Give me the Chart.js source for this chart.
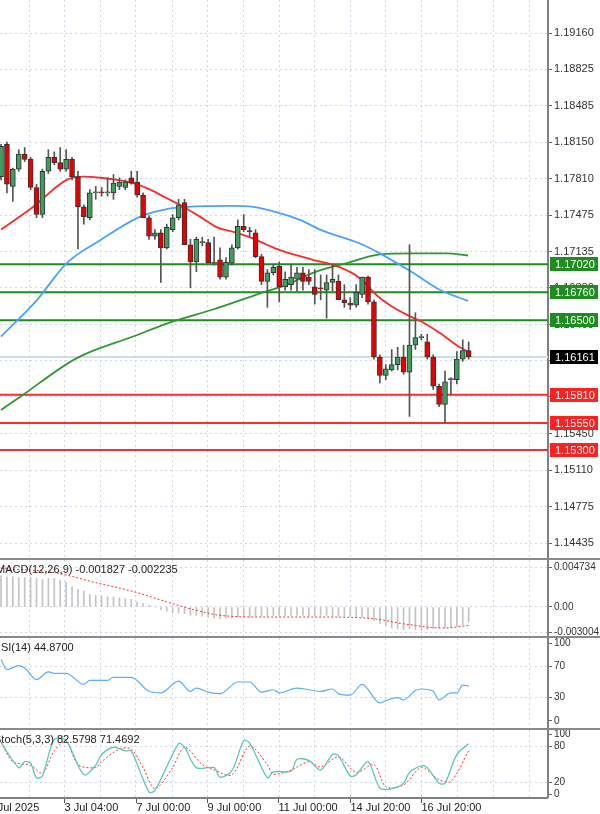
<!DOCTYPE html>
<html><head><meta charset="utf-8">
<script src="https://cdn.jsdelivr.net/npm/chart.js@4.4.1/dist/chart.umd.min.js"></script>
<style>
html,body{margin:0;padding:0;background:#fff;width:600px;height:814px;overflow:hidden;position:relative}
canvas{position:absolute;left:0}
.sep{position:absolute;left:0;width:600px;height:2px;background:#8a8a8a}
</style></head><body>
<canvas id="cMain" width="600" height="558" style="top:0"></canvas>
<div class="sep" style="top:558px"></div>
<canvas id="cMacd" width="600" height="76" style="top:560px"></canvas>
<div class="sep" style="top:636px"></div>
<canvas id="cRsi" width="600" height="90" style="top:638px"></canvas>
<div class="sep" style="top:728px"></div>
<canvas id="cSto" width="600" height="84" style="top:730px"></canvas>
<script>
// ---------- data ----------
const openP = [1.1783,1.1813,1.1774,1.1790,1.1804,1.1799,1.1773,1.1748,1.1788,1.1801,
1.1796,1.1790,1.1799,1.1783,1.1755,1.1745,1.1768,1.1769,1.1768,1.1768,
1.1774,1.1773,1.1782,1.1778,1.1766,1.1745,1.1728,1.1731,1.1717,1.1734,
1.1745,1.1759,1.1720,1.1704,1.1722,1.1722,1.1703,1.1706,1.1690,1.1703,
1.1717,1.1737,1.1733,1.1731,1.1709,1.1686,1.1694,1.1700,1.1681,1.1683,
1.1688,1.1694,1.1690,1.1681,1.1680,1.1678,1.1685,1.1686,1.1669,1.1666,
1.1664,1.1674,1.1690,1.1667,1.1616,1.1599,1.1604,1.1609,1.1616,1.1602,
1.1627,1.1634,1.1630,1.1616,1.1589,1.1572,1.1595,1.1595,1.1614,1.1622];
const highP = [1.1813,1.1815,1.1791,1.1808,1.1810,1.1801,1.1776,1.1790,1.1808,1.1806,
1.1810,1.1808,1.1801,1.1788,1.1757,1.1771,1.1774,1.1773,1.1782,1.1785,
1.1782,1.1780,1.1788,1.1788,1.1768,1.1747,1.1734,1.1734,1.1739,1.1748,
1.1762,1.1762,1.1725,1.1727,1.1727,1.1725,1.1727,1.1717,1.1708,1.1720,
1.1743,1.1748,1.1736,1.1734,1.1711,1.1697,1.1702,1.1704,1.1695,1.1702,
1.1699,1.1699,1.1697,1.1697,1.1692,1.1692,1.1702,1.1692,1.1683,1.1671,
1.1683,1.1690,1.1691,1.1669,1.1618,1.1609,1.1623,1.1625,1.1627,1.1720,
1.1657,1.1637,1.1637,1.1618,1.1591,1.1603,1.1597,1.1621,1.1632,1.1630];
const lowP = [1.1780,1.1768,1.1760,1.1788,1.1797,1.1771,1.1745,1.1745,1.1786,1.1794,
1.1788,1.1788,1.1780,1.1716,1.1739,1.1743,1.1762,1.1765,1.1765,1.1762,
1.1771,1.1771,1.1776,1.1764,1.1745,1.1725,1.1725,1.1685,1.1716,1.1732,
1.1743,1.1720,1.1680,1.1695,1.1719,1.1703,1.1701,1.1688,1.1688,1.1701,
1.1716,1.1732,1.1728,1.1708,1.1683,1.1662,1.1692,1.1667,1.1678,1.1678,
1.1677,1.1678,1.1683,1.1665,1.1669,1.1652,1.1677,1.1669,1.1662,1.1660,
1.1662,1.1671,1.1665,1.1614,1.1592,1.1595,1.1603,1.1604,1.1600,1.1561,
1.1623,1.1632,1.1614,1.1586,1.1570,1.1555,1.1581,1.1591,1.1612,1.1614];
const closeP = [1.1811,1.1776,1.1790,1.1804,1.1799,1.1773,1.1748,1.1788,1.1801,1.1796,
1.1790,1.1799,1.1783,1.1755,1.1746,1.1768,1.1769,1.1768,1.1769,1.1777,
1.1778,1.1778,1.1777,1.1766,1.1745,1.1728,1.1731,1.1717,1.1736,1.1745,
1.1757,1.1720,1.1704,1.1725,1.1722,1.1703,1.1704,1.1690,1.1704,1.1717,
1.1737,1.1734,1.1732,1.1709,1.1686,1.1694,1.1699,1.1681,1.1688,1.1690,
1.1694,1.1686,1.1686,1.1674,1.1679,1.1685,1.1688,1.1669,1.1666,1.1664,
1.1676,1.1690,1.1667,1.1616,1.1599,1.1605,1.1609,1.1616,1.1602,1.1627,
1.1634,1.1634,1.1616,1.1589,1.1572,1.1593,1.1595,1.1614,1.1622,1.1616];

const maRedX  = [0,5.4,11.1,13.9,16.7,19.6,22.3,25.2,28,30.2,33.6,36.5,39.2,42,44.9,47.1,52.7,57.3,60.6,63.5,65.7,68.6,71.3,74.2,77.5,78.9];
const maRedY  = [1.1734,1.1755,1.1780,1.1783,1.1782,1.1780,1.1777,1.1771,1.1763,1.1757,1.1746,1.1736,1.1732,1.1727,1.1720,1.1715,1.1706,1.1699,1.1689,1.1673,1.1664,1.1655,1.1648,1.1638,1.1625,1.1621];
const maBlueX = [0,6.1,11.1,16.7,23.5,28,31.4,39.2,42.6,46.6,50.5,53.9,61.1,64,69.6,74.2,78.9];
const maBlueY = [1.1635,1.1669,1.1703,1.1724,1.1746,1.1753,1.1755,1.1756,1.1755,1.1750,1.1743,1.1734,1.1720,1.1712,1.1694,1.1678,1.1668];
const maGreenX = [0,3.2,12.8,22.3,29.1,35.8,43.8,48.3,52.7,58.4,64,69.6,75.3,78.9];
const maGreenY = [1.1567,1.1579,1.1615,1.1635,1.1649,1.1660,1.1675,1.1683,1.1694,1.1703,1.1711,1.1712,1.1712,1.1710];

const resistLevels = [1.17020,1.16760,1.16500];
const supportLevels = [1.15810,1.15550,1.15300];
const currentPrice = 1.16161;
const priceTicks = [1.19160,1.18825,1.18485,1.18150,1.17810,1.17475,1.17135,1.16800,1.16460,1.16125,1.15790,1.15450,1.15110,1.14775,1.14435];

const macdHist = [0.0037,0.0036,0.0036,0.0035,0.0035,0.0035,0.0034,0.0033,0.0034,0.0034,
0.0032,0.0030,0.0024,0.0021,0.0019,0.0015,0.0014,0.0013,0.0012,0.0012,
0.0011,0.0010,0.0009,0.0006,0.0004,0.0002,0.0000,-0.0003,-0.0005,-0.0007,
-0.0007,-0.0008,-0.0010,-0.0010,-0.0011,-0.0012,-0.0013,-0.0014,-0.0013,-0.0013,
-0.0012,-0.0012,-0.0012,-0.0011,-0.0011,-0.0011,-0.0010,-0.0010,-0.0010,-0.0010,
-0.0010,-0.0010,-0.0011,-0.0010,-0.0010,-0.0010,-0.0011,-0.0011,-0.0011,-0.0011,
-0.0012,-0.0012,-0.0013,-0.0016,-0.0020,-0.0022,-0.0025,-0.0026,-0.0027,-0.0026,
-0.0027,-0.0027,-0.0027,-0.0026,-0.0025,-0.0025,-0.0024,-0.0023,-0.0021,-0.0018];
const macdSigX = [0,9,16,22,29,33,37,45,55,61,64,67,70,72,75,79];
const macdSigY = [0.0046,0.0041,0.0029,0.0019,0.0004,-0.0004,-0.0010,-0.0012,-0.0012,-0.0013,-0.0015,-0.0019,-0.0022,-0.0024,-0.0025,-0.0022];
const macdTicks = [0.004734,0,-0.003004];

const rsiX = [0,1,3,4,6,8,9,11,14,15,18,19,22,25,27,30,32,33,35,37,40,42,44,46,47,50,54,56,57,59,61,64,65,67,68,70,71,73,74,76,77,78,79];
const rsiY = [79,66,71,68,53,63,61,61,47,52,52,56,56,38,36,51,38,42,37,35,50,50,37,40,36,42,38,41,35,33,47,23,26,30,27,39,41,38,27,36,36,46,45];
const rsiTicks = [100,70,30,0];

const stoKX = [0,3,4,5,6,7,9,11,14,16,17,19,21,22,25,26,30,31,33,36,37,39,41,42,45,46,49,50,52,54,56,57,59,60,62,64,66,68,69,71,72,74,75,77,79];
const stoKY = [86,44,54,51,27,30,91,89,32,48,66,78,72,72,3,6,84,78,44,44,28,39,89,85,27,37,38,58,56,40,66,64,30,32,54,10,9,18,36,47,44,18,18,66,84];
const stoDX = [0,2,5,7,9,11,13,16,17,20,22,24,26,29,31,34,36,39,42,45,46,49,52,54,57,60,63,65,68,71,74,76,79];
const stoDY = [86,54,48,35,72,88,49,44,54,75,75,44,9,44,78,49,40,32,80,49,33,40,54,45,62,36,49,12,15,44,24,21,72];
const stoTicks = [100,80,20,0];

const dayGridIdx = [4.75,10.8,16.8,22.8,28.9,34.9,40.9,47,53,59,65,71,77.1,83.2,89.3];
const timeLabelIdx = [-2.2,10.7,22.8,34.8,46.8,58.9,70.9];
const timeLabels = ['2 Jul 2025','3 Jul 04:00','7 Jul 00:00','9 Jul 00:00','11 Jul 00:00','14 Jul 20:00','16 Jul 20:00'];

// ---------- helpers ----------
const X_MIN = -0.17, X_MAX = 92.4;
const FONT = 'Liberation Sans';
const GRIDC = '#cfd8e8';
const DASH = [2,3];
const pts = (xs, ys) => xs.map((x,i)=>({x, y: ys[i]}));
function xScale(){
  return {type:'linear', min:X_MIN, max:X_MAX, display:true, offset:false,
    afterBuildTicks(s){ s.ticks = dayGridIdx.map(v=>({value:v})); },
    afterFit(s){ s.height = 0; s.paddingLeft = 0; s.paddingRight = 0; },
    ticks:{display:false},
    grid:{color:GRIDC, drawTicks:false, offset:false},
    border:{display:false, dash:DASH}};
}
function yScale(min,max,ticks,fmt,fs,gridColor){
  return {type:'linear', position:'right', min, max,
    afterBuildTicks(s){ s.ticks = ticks.map(v=>({value:v})); },
    afterFit(s){ s.width = 52; s.paddingTop = 0; s.paddingBottom = 0; },
    ticks:{color:'#333', font:{family:FONT, size:fs||11}, padding:2, callback:fmt, autoSkip:false},
    grid:{color:gridColor||GRIDC, tickLength:4, tickColor:'#666', tickBorderDash:[]},
    border:{display:true, color:'#808080', width:2, dash:DASH}};
}
function titlePlugin(text, dx){
  return {id:'title_'+text.length, afterDraw(c){
    const ctx=c.ctx; ctx.save(); ctx.font='11px '+FONT; ctx.fillStyle='#222';
    ctx.textBaseline='top'; ctx.fillText(text, dx, 4); ctx.restore(); }};
}
const baseOpts = {responsive:false, animation:false, devicePixelRatio:1,
  layout:{padding:0}, plugins:{legend:{display:false}, tooltip:{enabled:false}}};

// ---------- main ----------
const up = closeP.map((c,i)=>c>=openP[i]);
const levelPlugin = {id:'levels',
  beforeDatasetsDraw(c){
    const ctx=c.ctx, y=c.scales.y, a=c.chartArea;
    ctx.save(); ctx.strokeStyle='#d3dbe8'; ctx.lineWidth=2;
    const py=y.getPixelForValue(currentPrice);
    ctx.beginPath(); ctx.moveTo(a.left,py); ctx.lineTo(a.right,py); ctx.stroke();
    resistLevels.forEach(v=>{const p=y.getPixelForValue(v); ctx.strokeStyle='#1e8c1e';
      ctx.beginPath(); ctx.moveTo(a.left,p); ctx.lineTo(a.right,p); ctx.stroke();});
    supportLevels.forEach(v=>{const p=y.getPixelForValue(v); ctx.strokeStyle='#ff2a2a';
      ctx.beginPath(); ctx.moveTo(a.left,p); ctx.lineTo(a.right,p); ctx.stroke();});
    ctx.restore();
  },
  afterDraw(c){
    const ctx=c.ctx, y=c.scales.y, a=c.chartArea;
    ctx.save(); ctx.font='11px '+FONT; ctx.textBaseline='middle';
    const box=(v,bg,fg)=>{const p=Math.round(y.getPixelForValue(v));
      ctx.fillStyle=bg; ctx.fillRect(a.right+2,p-7,48,14);
      ctx.fillStyle=fg; ctx.fillText(v.toFixed(5), a.right+7, p+0.5);};
    resistLevels.forEach(v=>box(v,'#1e8c1e','#fff'));
    supportLevels.forEach(v=>box(v,'#ff2020','#fff'));
    box(currentPrice,'#000','#fff');
    ctx.restore();
  }};
new Chart(document.getElementById('cMain'), {
  data:{datasets:[
    {type:'line', data:pts(maGreenX,maGreenY), borderColor:'#2e9a2e', borderWidth:1.8, pointRadius:0, cubicInterpolationMode:'monotone', order:5},
    {type:'line', data:pts(maBlueX,maBlueY), borderColor:'#4aa3ff', borderWidth:1.8, pointRadius:0, cubicInterpolationMode:'monotone', order:4},
    {type:'line', data:pts(maRedX,maRedY), borderColor:'#ff2a2a', borderWidth:1.8, pointRadius:0, cubicInterpolationMode:'monotone', order:3},
    {type:'bar', data:highP.map((h,i)=>({x:i, y:[lowP[i],h]})), backgroundColor:'#555', barThickness:1, grouped:false, order:2},
    {type:'bar', data:openP.map((o,i)=>({x:i, y:[o,closeP[i]]})), backgroundColor:up.map(u=>u?'#3f9e5f':'#e60000'),
      borderColor:'#333', borderWidth:1, borderSkipped:false, barThickness:5, minBarLength:1, grouped:false, order:1}
  ]},
  options:{...baseOpts, scales:{x:xScale(), y:yScale(1.14299,1.19466,priceTicks,v=>v.toFixed(5),11)}},
  plugins:[levelPlugin]
});

// ---------- MACD ----------
new Chart(document.getElementById('cMacd'), {
  data:{datasets:[
    {type:'bar', data:macdHist.map((v,i)=>({x:i,y:v})), backgroundColor:'#c4c4c4', barThickness:1, order:2},
    {type:'line', data:pts(macdSigX,macdSigY), borderColor:'#ff3030', borderWidth:1, borderDash:[2,2], pointRadius:0, cubicInterpolationMode:'monotone', order:1}
  ]},
  options:{...baseOpts, scales:{x:xScale(), y:yScale(-0.00346,0.0056,macdTicks,v=>v===0?'0.00':v.toFixed(6),10)}},
  plugins:[titlePlugin('MACD(12,26,9) -0.001827 -0.002235',-4)]
});

// ---------- RSI ----------
const hideGrid = keep => ctx => (ctx.tick && keep.includes(ctx.tick.value)) ? GRIDC : 'rgba(0,0,0,0)';
new Chart(document.getElementById('cRsi'), {
  data:{datasets:[
    {type:'line', data:pts(rsiX,rsiY), borderColor:'#5aaeff', borderWidth:1.2, pointRadius:0, cubicInterpolationMode:'monotone'}
  ]},
  options:{...baseOpts, scales:{x:xScale(), y:yScale(-9.2,106.6,rsiTicks,v=>String(v),10,hideGrid([70,30]))}},
  plugins:[titlePlugin('RSI(14) 44.8700',-7)]
});

// ---------- Stochastic ----------
const timeAxisPlugin = {id:'timeAxis', afterDraw(c){
  const ctx=c.ctx, x=c.scales.x, a=c.chartArea;
  ctx.save();
  ctx.strokeStyle='#808080'; ctx.lineWidth=2;
  ctx.beginPath(); ctx.moveTo(0,a.bottom+1); ctx.lineTo(a.right,a.bottom+1); ctx.stroke();
  ctx.lineWidth=1; ctx.strokeStyle='#555';
  ctx.font='11px '+FONT; ctx.fillStyle='#222'; ctx.textBaseline='top'; ctx.textAlign='left';
  timeLabelIdx.forEach((v,i)=>{const px=Math.round(x.getPixelForValue(v))+0.5;
    ctx.beginPath(); ctx.moveTo(px,a.bottom+2); ctx.lineTo(px,a.bottom+6); ctx.stroke();
    ctx.fillText(timeLabels[i], px, a.bottom+5);});
  ctx.restore();
}};
new Chart(document.getElementById('cSto'), {
  data:{datasets:[
    {type:'line', data:pts(stoKX,stoKY), borderColor:'#5cc8bd', borderWidth:1.3, pointRadius:0, tension:0.3},
    {type:'line', data:pts(stoDX,stoDY), borderColor:'#ff3030', borderWidth:1, borderDash:[2,2], pointRadius:0, tension:0.3}
  ]},
  options:{...baseOpts, layout:{padding:{bottom:17}}, scales:{
    x:xScale(),
    y:yScale(-5,106.8,stoTicks,v=>String(v),10,hideGrid([80,20]))}},
  plugins:[titlePlugin('Stoch(5,3,3) 82.5798 71.4692',-6), timeAxisPlugin]
});
</script>
</body></html>
